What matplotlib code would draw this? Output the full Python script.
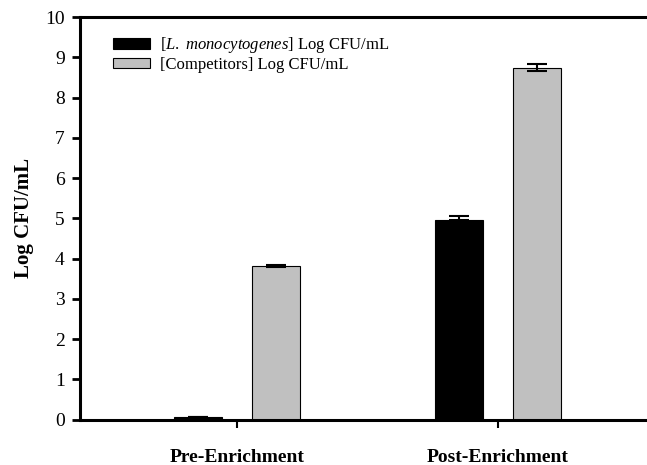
import numpy as np
import matplotlib
matplotlib.use('Agg')
import matplotlib.pyplot as plt

# data
groups = ['Pre-Enrichment', 'Post-Enrichment']
listeria = [0.07, 4.95]
listeria_err = [0.0, 0.11]
competitors = [3.81, 8.74]
competitors_err = [0.02, 0.09]

plt.rcParams['font.family'] = ['Liberation Serif', 'DejaVu Serif']
plt.rcParams['mathtext.fontset'] = 'custom'
plt.rcParams['mathtext.it'] = 'Liberation Serif:italic'
plt.rcParams['mathtext.rm'] = 'Liberation Serif'

fig = plt.figure(figsize=(6.47, 4.65), dpi=100)
ax = fig.add_axes([0.1236, 0.0978, 0.8764, 0.8656])

x = np.arange(len(groups))
w = 0.184
off = 0.15

ax.bar(x - off, listeria, w, color='black', edgecolor='black', linewidth=0.8,
       yerr=[[0, 0], listeria_err], capsize=7,
       error_kw=dict(elinewidth=1.5, capthick=1.5, ecolor='black'),
       label=r'[$\it{L.\ monocytogenes}$] Log CFU/mL')
ax.bar(x + off, competitors, w, color='#c0c0c0', edgecolor='black', linewidth=0.8,
       yerr=competitors_err, capsize=7,
       error_kw=dict(elinewidth=1.5, capthick=1.5, ecolor='black'),
       label='[Competitors] Log CFU/mL')

ax.set_xlim(-0.60, 1.57)
ax.set_ylim(0, 10)
ax.set_yticks(range(0, 11))
ax.set_xticks(x)
ax.set_xticklabels(groups, fontweight='bold', fontsize=14)
ax.tick_params(axis='y', labelsize=14, width=2, length=6, direction='out', pad=5)
ax.tick_params(axis='x', width=1.5, length=6, direction='out', pad=15)
ax.set_ylabel('Log CFU/mL', fontweight='bold', fontsize=15, labelpad=8)

ax.spines['right'].set_visible(False)
for s in ['left', 'bottom', 'top']:
    ax.spines[s].set_linewidth(2.2)

ax.legend(loc='upper left', bbox_to_anchor=(0.058, 0.955), frameon=False,
          fontsize=12, handlelength=2.2, handleheight=0.6,
          labelspacing=0.1, handletextpad=0.6, borderpad=0, borderaxespad=0)

fig.savefig('out.png', dpi=100)
